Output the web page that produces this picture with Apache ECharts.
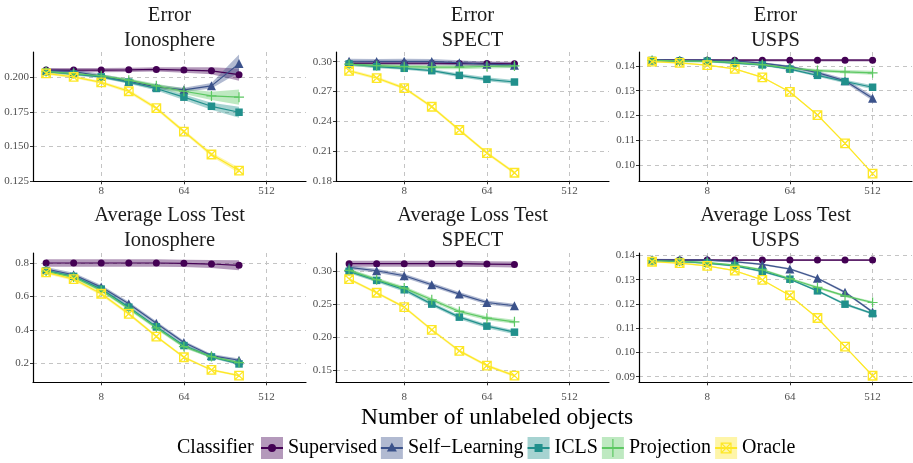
<!DOCTYPE html>
<html><head><meta charset="utf-8">
<script src="https://cdn.jsdelivr.net/npm/echarts@6/dist/echarts.min.js"></script>
<style>html,body{margin:0;padding:0;background:#fff}#chart{width:913px;height:463px}</style>
</head><body><div id="chart"></div>
<script>
// ---------- categories / labels ----------
const classifiers = ['Supervised', 'Self\u2212Learning', 'ICLS', 'Projection', 'Oracle'];
const measures = ['Error', 'Average Loss Test'];
const datasets = ['Ionosphere', 'SPECT', 'USPS'];
const nUnlabeledIono = [2, 4, 8, 16, 32, 64, 128, 256];
const nUnlabeledSpect = [2, 4, 8, 16, 32, 64, 128];
const nUnlabeledUsps = [2, 4, 8, 16, 32, 64, 128, 256, 512];
const xTickLabels = [8, 64, 512];
const xTitle = 'Number of unlabeled objects';
const legendTitle = 'Classifier';

// ---------- y tick labels per panel ----------
const yTicksErrIono = [0.125, 0.150, 0.175, 0.200];
const yTicksErrSpect = [0.18, 0.21, 0.24, 0.27, 0.30];
const yTicksErrUsps = [0.10, 0.11, 0.12, 0.13, 0.14];
const yTicksLossIono = [0.2, 0.4, 0.6, 0.8];
const yTicksLossSpect = [0.15, 0.20, 0.25, 0.30];
const yTicksLossUsps = [0.09, 0.10, 0.11, 0.12, 0.13, 0.14];

// ---------- Error / Ionosphere ----------
const errIonoSupervised = [0.2053, 0.2053, 0.2053, 0.2055, 0.2058, 0.2053, 0.2048, 0.2020];
const errIonoSelf = [0.2050, 0.2043, 0.2010, 0.1972, 0.1932, 0.1910, 0.1939, 0.2100];
const errIonoICLS = [0.2041, 0.2024, 0.2004, 0.1966, 0.1920, 0.1857, 0.1791, 0.1748];
const errIonoProj = [0.2043, 0.2028, 0.2012, 0.1980, 0.1939, 0.1900, 0.1866, 0.1857];
const errIonoOracle = [0.2029, 0.2004, 0.1964, 0.1900, 0.1777, 0.1608, 0.1442, 0.1326];
const errIonoSupervisedSE = [0.0015, 0.0015, 0.0015, 0.0015, 0.0015, 0.0020, 0.0025, 0.0045];
const errIonoSelfSE = [0.0015, 0.0015, 0.0015, 0.0015, 0.0015, 0.0015, 0.0020, 0.0065];
const errIonoICLSSE = [0.0010, 0.0010, 0.0010, 0.0012, 0.0015, 0.0020, 0.0025, 0.0040];
const errIonoProjSE = [0.0010, 0.0010, 0.0010, 0.0012, 0.0015, 0.0020, 0.0030, 0.0055];
const errIonoOracleSE = [0.0010, 0.0010, 0.0010, 0.0012, 0.0012, 0.0013, 0.0015, 0.0020];

// ---------- Error / SPECT ----------
const errSpectSupervised = [0.2985, 0.2985, 0.2985, 0.2985, 0.2983, 0.2982, 0.2980];
const errSpectSelf = [0.3005, 0.3003, 0.3005, 0.3003, 0.2990, 0.2975, 0.2965];
const errSpectICLS = [0.2977, 0.2950, 0.2934, 0.2910, 0.2863, 0.2823, 0.2796];
const errSpectProj = [0.2975, 0.2960, 0.2950, 0.2945, 0.2945, 0.2952, 0.2958];
const errSpectOracle = [0.2909, 0.2836, 0.2735, 0.2547, 0.2313, 0.2081, 0.1883];
const errSpectSupervisedSE = [0.0020, 0.0020, 0.0020, 0.0020, 0.0020, 0.0020, 0.0020];
const errSpectSelfSE = [0.0025, 0.0025, 0.0025, 0.0025, 0.0025, 0.0025, 0.0025];
const errSpectICLSSE = [0.0015, 0.0015, 0.0015, 0.0017, 0.0018, 0.0020, 0.0020];
const errSpectProjSE = [0.0020, 0.0020, 0.0020, 0.0020, 0.0020, 0.0020, 0.0020];
const errSpectOracleSE = [0.0015, 0.0015, 0.0015, 0.0015, 0.0015, 0.0015, 0.0015];

// ---------- Error / USPS ----------
const errUspsSupervised = [0.1423, 0.1423, 0.1423, 0.1423, 0.1423, 0.1423, 0.1423, 0.1423, 0.1423];
const errUspsSelf = [0.1424, 0.1423, 0.1423, 0.1420, 0.1411, 0.1397, 0.1373, 0.1340, 0.1270];
const errUspsICLS = [0.1422, 0.1419, 0.1419, 0.1411, 0.1404, 0.1387, 0.1362, 0.1337, 0.1314];
const errUspsProj = [0.1422, 0.1420, 0.1418, 0.1414, 0.1405, 0.1391, 0.1381, 0.1376, 0.1372];
const errUspsOracle = [0.1417, 0.1412, 0.1403, 0.1388, 0.1354, 0.1295, 0.1202, 0.1088, 0.0966];
const errUspsSupervisedSE = [0.0005, 0.0005, 0.0005, 0.0005, 0.0005, 0.0005, 0.0005, 0.0005, 0.0005];
const errUspsSelfSE = [0.0004, 0.0004, 0.0004, 0.0004, 0.0004, 0.0005, 0.0006, 0.0008, 0.0010];
const errUspsICLSSE = [0.0004, 0.0004, 0.0004, 0.0004, 0.0004, 0.0005, 0.0006, 0.0007, 0.0008];
const errUspsProjSE = [0.0004, 0.0004, 0.0004, 0.0004, 0.0004, 0.0005, 0.0006, 0.0007, 0.0008];
const errUspsOracleSE = [0.0003, 0.0003, 0.0003, 0.0003, 0.0003, 0.0003, 0.0003, 0.0003, 0.0003];

// ---------- Average Loss Test / Ionosphere ----------
const lossIonoSupervised = [0.800, 0.800, 0.800, 0.800, 0.800, 0.798, 0.794, 0.786];
const lossIonoSelf = [0.764, 0.730, 0.656, 0.556, 0.440, 0.324, 0.246, 0.218];
const lossIonoICLS = [0.754, 0.720, 0.644, 0.536, 0.418, 0.306, 0.238, 0.196];
const lossIonoProj = [0.750, 0.716, 0.636, 0.528, 0.412, 0.300, 0.240, 0.204];
const lossIonoOracle = [0.744, 0.704, 0.616, 0.496, 0.360, 0.236, 0.160, 0.126];
const lossIonoSupervisedSE = [0.022, 0.022, 0.022, 0.022, 0.022, 0.022, 0.024, 0.030];
const lossIonoSelfSE = [0.012, 0.012, 0.012, 0.012, 0.012, 0.010, 0.010, 0.010];
const lossIonoICLSSE = [0.010, 0.010, 0.010, 0.010, 0.010, 0.010, 0.008, 0.008];
const lossIonoProjSE = [0.010, 0.010, 0.010, 0.010, 0.010, 0.010, 0.008, 0.008];
const lossIonoOracleSE = [0.010, 0.010, 0.010, 0.010, 0.008, 0.008, 0.006, 0.006];

// ---------- Average Loss Test / SPECT ----------
const lossSpectSupervised = [0.3111, 0.3111, 0.3111, 0.3111, 0.3111, 0.3105, 0.3100];
const lossSpectSelf = [0.3056, 0.3005, 0.2929, 0.2793, 0.2652, 0.2525, 0.2475];
const lossSpectICLS = [0.2995, 0.2859, 0.2717, 0.2500, 0.2303, 0.2167, 0.2076];
const lossSpectProj = [0.3010, 0.2869, 0.2742, 0.2566, 0.2389, 0.2288, 0.2232];
const lossSpectOracle = [0.2879, 0.2672, 0.2455, 0.2111, 0.1793, 0.1571, 0.1419];
const lossSpectSupervisedSE = [0.0045, 0.0045, 0.0045, 0.0045, 0.0045, 0.0045, 0.0045];
const lossSpectSelfSE = [0.0030, 0.0030, 0.0030, 0.0030, 0.0030, 0.0030, 0.0030];
const lossSpectICLSSE = [0.0030, 0.0030, 0.0030, 0.0030, 0.0030, 0.0030, 0.0030];
const lossSpectProjSE = [0.0030, 0.0030, 0.0030, 0.0030, 0.0030, 0.0030, 0.0030];
const lossSpectOracleSE = [0.0020, 0.0020, 0.0020, 0.0020, 0.0020, 0.0020, 0.0020];

// ---------- Average Loss Test / USPS ----------
const lossUspsSupervised = [0.1381, 0.1381, 0.1381, 0.1381, 0.1381, 0.1381, 0.1381, 0.1381, 0.1381];
const lossUspsSelf = [0.1382, 0.1381, 0.1381, 0.1374, 0.1363, 0.1344, 0.1306, 0.1248, 0.1167];
const lossUspsICLS = [0.1378, 0.1375, 0.1368, 0.1357, 0.1334, 0.1302, 0.1254, 0.1199, 0.1160];
const lossUspsProj = [0.1378, 0.1376, 0.1370, 0.1360, 0.1341, 0.1304, 0.1268, 0.1233, 0.1206];
const lossUspsOracle = [0.1374, 0.1368, 0.1357, 0.1337, 0.1299, 0.1235, 0.1142, 0.1024, 0.0904];
const lossUspsSupervisedSE = [0.0004, 0.0004, 0.0004, 0.0004, 0.0004, 0.0004, 0.0004, 0.0004, 0.0004];
const lossUspsSelfSE = [0.0004, 0.0004, 0.0004, 0.0004, 0.0004, 0.0004, 0.0004, 0.0005, 0.0005];
const lossUspsICLSSE = [0.0004, 0.0004, 0.0004, 0.0004, 0.0004, 0.0004, 0.0004, 0.0005, 0.0005];
const lossUspsProjSE = [0.0004, 0.0004, 0.0004, 0.0004, 0.0004, 0.0005, 0.0005, 0.0005, 0.0005];
const lossUspsOracleSE = [0.0003, 0.0003, 0.0003, 0.0003, 0.0003, 0.0003, 0.0003, 0.0003, 0.0003];

// ---------- panel assembly (references to the arrays above) ----------
const panels = [
  { m: 0, d: 0, n: nUnlabeledIono, yTicks: yTicksErrIono, dec: 3, yMin: 0.1248, yMax: 0.2184,
    means: [errIonoSupervised, errIonoSelf, errIonoICLS, errIonoProj, errIonoOracle],
    ses: [errIonoSupervisedSE, errIonoSelfSE, errIonoICLSSE, errIonoProjSE, errIonoOracleSE] },
  { m: 0, d: 1, n: nUnlabeledSpect, yTicks: yTicksErrSpect, dec: 2, yMin: 0.1797, yMax: 0.3098,
    means: [errSpectSupervised, errSpectSelf, errSpectICLS, errSpectProj, errSpectOracle],
    ses: [errSpectSupervisedSE, errSpectSelfSE, errSpectICLSSE, errSpectProjSE, errSpectOracleSE] },
  { m: 0, d: 2, n: nUnlabeledUsps, yTicks: yTicksErrUsps, dec: 2, yMin: 0.0935, yMax: 0.1456,
    means: [errUspsSupervised, errUspsSelf, errUspsICLS, errUspsProj, errUspsOracle],
    ses: [errUspsSupervisedSE, errUspsSelfSE, errUspsICLSSE, errUspsProjSE, errUspsOracleSE] },
  { m: 1, d: 0, n: nUnlabeledIono, yTicks: yTicksLossIono, dec: 1, yMin: 0.086, yMax: 0.86,
    means: [lossIonoSupervised, lossIonoSelf, lossIonoICLS, lossIonoProj, lossIonoOracle],
    ses: [lossIonoSupervisedSE, lossIonoSelfSE, lossIonoICLSSE, lossIonoProjSE, lossIonoOracleSE] },
  { m: 1, d: 1, n: nUnlabeledSpect, yTicks: yTicksLossSpect, dec: 2, yMin: 0.1318, yMax: 0.3273,
    means: [lossSpectSupervised, lossSpectSelf, lossSpectICLS, lossSpectProj, lossSpectOracle],
    ses: [lossSpectSupervisedSE, lossSpectSelfSE, lossSpectICLSSE, lossSpectProjSE, lossSpectOracleSE] },
  { m: 1, d: 2, n: nUnlabeledUsps, yTicks: yTicksLossUsps, dec: 2, yMin: 0.0877, yMax: 0.141,
    means: [lossUspsSupervised, lossUspsSelf, lossUspsICLS, lossUspsProj, lossUspsOracle],
    ses: [lossUspsSupervisedSE, lossUspsSelfSE, lossUspsICLSSE, lossUspsProjSE, lossUspsOracleSE] }
];

// ---------- styles & layout ----------
const colors = ['#440154', '#3B528B', '#21908C', '#5DC863', '#FDE725'];
const FONT = 'Liberation Serif';
const gridLefts = [33, 336, 639];
const gridTops = [52, 253];
const gridW = 273, gridH = 129.3;
const xMinLog = 0.525, xMaxLog = 10.43;
const ribbonAlpha = 0.4;
const symbols = [
  'circle',
  'triangle',
  'rect',
  'path://M4.4,0H5.6V4.4H10V5.6H5.6V10H4.4V5.6H0V4.4H4.4Z',
  'path://M0,0H10V10H0ZM0,0L10,10M10,0L0,10'
];
const symbolSizes = [7, 9, 7.5, 10, 8.5];

// legend key glyphs (22x22 box: key line + marker); corner specks fix the box size
const keyFrame = 'M0,0L0.01,0L0,0.01Z M22,22L21.99,22L22,21.99Z ';
const keyLine = 'M0,10H22V12H0Z ';
const keyIcons = [
  'path://' + keyFrame + keyLine + 'M15,11A4,4 0 1,1 7,11A4,4 0 1,1 15,11Z',
  'path://' + keyFrame + keyLine + 'M11,5.5L16,14.5L6,14.5Z',
  'path://' + keyFrame + keyLine + 'M7,7H15V15H7Z',
  'path://' + keyFrame + keyLine + 'M10.4,2H11.6V20H10.4Z',
  'path://' + keyFrame + keyLine + 'M5.5,5.5H16.5V16.5H5.5Z M6.7,6.7V15.3H15.3V6.7Z ' +
    'M6.7,6.7L7.6,6.7L15.3,14.4L15.3,15.3L14.4,15.3L6.7,7.6Z ' +
    'M15.3,6.7L15.3,7.6L7.6,15.3L6.7,15.3L6.7,14.4L14.4,6.7Z'
];

function rgba(hex, a) {
  const r = parseInt(hex.slice(1, 3), 16), g = parseInt(hex.slice(3, 5), 16), b = parseInt(hex.slice(5, 7), 16);
  return `rgba(${r},${g},${b},${a})`;
}

const grids = [], xAxes = [], yAxes = [], series = [], graphics = [];

panels.forEach((p, pi) => {
  const col = p.d, row = p.m;
  grids.push({ left: gridLefts[col], top: gridTops[row], width: gridW, height: gridH, containLabel: false });
  const xTickLog = xTickLabels.map(v => Math.log2(v));
  xAxes.push({
    type: 'value', gridIndex: pi, min: xMinLog, max: xMaxLog,
    axisLine: { show: true, onZero: false, lineStyle: { color: '#000', width: 1.2 } },
    axisTick: { show: true, length: 3, customValues: xTickLog, lineStyle: { color: '#333' } },
    axisLabel: { customValues: xTickLog, formatter: v => String(Math.round(Math.pow(2, v))),
      margin: row === 0 ? 4 : 9, fontFamily: FONT, fontSize: 11, color: '#4d4d4d' },
    splitLine: { show: true, lineStyle: { type: [4, 4], color: '#c4c4c4', width: 1 } }
  });
  yAxes.push({
    type: 'value', gridIndex: pi, min: p.yMin, max: p.yMax,
    axisLine: { show: true, onZero: false, lineStyle: { color: '#000', width: 1.2 } },
    axisTick: { show: true, length: 3, customValues: p.yTicks, lineStyle: { color: '#333' } },
    axisLabel: { customValues: p.yTicks, formatter: v => v.toFixed(p.dec),
      margin: 4, fontFamily: FONT, fontSize: 11, color: '#4d4d4d' },
    splitLine: { show: true, lineStyle: { type: [4, 4], color: '#c4c4c4', width: 1 } }
  });

  // ribbons first
  classifiers.forEach((name, ci) => {
    const mean = p.means[ci], se = p.ses[ci];
    const d = p.n.map((n, i) => [Math.log2(n), mean[i] - se[i], mean[i] + se[i]]);
    series.push({
      type: 'custom', name: name + ' band', xAxisIndex: pi, yAxisIndex: pi, silent: true, z: 1,
      animation: false, data: d, encode: { x: 0, y: [1, 2] },
      renderItem: (params, api) => {
        if (params.dataIndex !== 0) return null;
        const pts = [];
        for (let i = 0; i < d.length; i++) pts.push(api.coord([d[i][0], d[i][2]]));
        for (let i = d.length - 1; i >= 0; i--) pts.push(api.coord([d[i][0], d[i][1]]));
        return { type: 'polygon', shape: { points: pts }, style: { fill: rgba(colors[ci], ribbonAlpha), stroke: null } };
      }
    });
  });
  // lines and points
  classifiers.forEach((name, ci) => {
    const mean = p.means[ci];
    const isOracle = ci === 4;
    series.push({
      type: 'line', name: name, xAxisIndex: pi, yAxisIndex: pi, z: 3 + ci, animation: false,
      data: p.n.map((n, i) => [Math.log2(n), mean[i]]),
      symbol: symbols[ci], symbolSize: symbolSizes[ci], showSymbol: true, showAllSymbol: true,
      color: colors[ci],
      lineStyle: { color: colors[ci], width: 1.2 },
      itemStyle: isOracle
        ? { color: 'rgba(253,231,37,0)', borderColor: colors[ci], borderWidth: 1.3 }
        : { color: colors[ci], borderWidth: 0 },
      emphasis: { disabled: true }
    });
  });

  // panel title
  const cx = gridLefts[col] + gridW / 2;
  graphics.push({
    type: 'text', x: cx, y: row === 0 ? 28 : 228,
    style: { text: measures[p.m] + '\n' + datasets[p.d], align: 'center', verticalAlign: 'middle',
      font: `20.5px "${FONT}"`, lineHeight: 24.5, fill: '#1a1a1a' }
  });
});

graphics.push({
  type: 'text', x: 497, y: 418,
  style: { text: xTitle, align: 'center', verticalAlign: 'middle', font: `23.5px "${FONT}"`, fill: '#000' }
});
graphics.push({
  type: 'text', x: 177, y: 448,
  style: { text: legendTitle, align: 'left', verticalAlign: 'middle', font: `20px "${FONT}"`, fill: '#000' }
});

const legendText = { fontFamily: FONT, fontSize: 20 };
const legendBase = { left: 261, top: 437, padding: 0, itemWidth: 22, itemHeight: 22, itemGap: 4,
  selectedMode: false, symbolKeepAspect: false };
const option = {
  backgroundColor: '#fff',
  animation: false,
  grid: grids, xAxis: xAxes, yAxis: yAxes, series: series,
  legend: [
    Object.assign({}, legendBase, {
      icon: 'rect',
      data: classifiers.map((n, i) => ({ name: n,
        itemStyle: { color: rgba(colors[i], ribbonAlpha), borderWidth: 0, opacity: 1 } })),
      textStyle: Object.assign({ color: 'rgba(0,0,0,0)' }, legendText) }),
    Object.assign({}, legendBase, {
      data: classifiers.map((n, i) => ({ name: n, icon: keyIcons[i],
        itemStyle: { color: colors[i], borderWidth: 0, opacity: 1 } })),
      textStyle: Object.assign({ color: '#000' }, legendText) })
  ],
  graphic: graphics
};

const chart = echarts.init(document.getElementById('chart'), null, { renderer: 'canvas' });
chart.setOption(option);
</script>
</body></html>
